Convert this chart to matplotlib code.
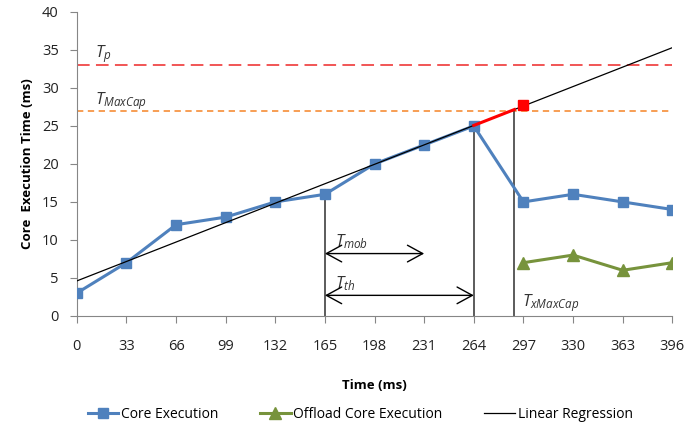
import matplotlib
matplotlib.use("Agg")
import matplotlib.pyplot as plt
import numpy as np

plt.rcParams['font.family'] = ['Open Sans', 'DejaVu Sans']
plt.rcParams['mathtext.fontset'] = 'custom'
plt.rcParams['mathtext.it'] = 'Open Sans:italic'
plt.rcParams['mathtext.rm'] = 'Open Sans'

time_ticks = [0, 33, 66, 99, 132, 165, 198, 231, 264, 297, 330, 363, 396]
core_x = [0, 33, 66, 99, 132, 165, 198, 231, 264, 297, 330, 363, 396]
core_y = [3, 7, 12, 13, 15, 16, 20, 22.5, 25, 15, 16, 15, 14]
offload_x = [297, 330, 363, 396]
offload_y = [7, 8, 6, 7]
reg_x = [0, 396]
reg_y = [4.6, 35.3]
t_p = 33
t_maxcap = 27
t_xmaxcap = 291
red_pt = (297, 27.8)
mob_span = (165, 231, 8.2)
th_span = (165, 264, 2.7)

def reg(x):
    return reg_y[0] + (reg_y[1] - reg_y[0]) * (x - reg_x[0]) / (reg_x[1] - reg_x[0])

fig = plt.figure(figsize=(6.86, 4.28), dpi=100)
ax = fig.add_axes([0.112, 0.262, 0.868, 0.71])

blue = '#4F81BD'
green = '#77933C'
gray = '#868686'

ax.axhline(t_p, color='#F04848', lw=1.3, dashes=(7, 3.5), zorder=1)
ax.axhline(t_maxcap, color='#F79646', lw=1.3, dashes=(3.5, 2.5), zorder=1)

# vertical markers
ax.plot([165, 165], [0, core_y[5]], color='#404040', lw=1.2, zorder=2)
ax.plot([264, 264], [0, core_y[8]], color='#404040', lw=1.2, zorder=2)
ax.plot([t_xmaxcap, t_xmaxcap], [0, reg(t_xmaxcap)], color='#404040', lw=1.2, zorder=2)

l1, = ax.plot(core_x, core_y, color=blue, lw=2.2, marker='s', ms=7.5, zorder=3,
              label='Core Execution')
l2, = ax.plot(offload_x, offload_y, color=green, lw=2.2, marker='^', ms=8,
              markerfacecolor=green, markeredgecolor=green, zorder=3,
              label='Offload Core Execution')
l3, = ax.plot(reg_x, reg_y, color='black', lw=0.9, zorder=4, label='Linear Regression')
ax.plot([264, t_xmaxcap], [reg(264), reg(t_xmaxcap)], color='red', lw=2.2, zorder=5)
ax.plot([red_pt[0]], [red_pt[1]], marker='s', ms=6.5, color='red', zorder=6)

# arrows
for (x0, x1, y) in [mob_span, th_span]:
    ax.annotate('', xy=(x1, y), xytext=(x0, y),
                arrowprops=dict(arrowstyle='<->, head_length=0.55, head_width=0.3',
                                color='black', lw=1.0,
                                mutation_scale=20, shrinkA=0, shrinkB=0), zorder=5)

tfs = 12
ax.text(12, 34.0, r'$T_p$', fontsize=tfs, color='#333333')
ax.text(12, 27.8, r'$T_{MaxCap}$', fontsize=tfs, color='#333333')
ax.text(172, 9.1, r'$T_{mob}$', fontsize=tfs, color='#333333')
ax.text(172, 3.6, r'$T_{th}$', fontsize=tfs, color='#333333')
ax.text(296, 1.3, r'$T_{xMaxCap}$', fontsize=tfs, color='#333333')

ax.set_xlim(0, 396)
ax.set_ylim(0, 40)
ax.set_xticks(time_ticks)
ax.set_xticklabels([str(t) for t in time_ticks])
ax.set_yticks(range(0, 41, 5))
for s in ['top', 'right']:
    ax.spines[s].set_visible(False)
for s in ['left', 'bottom']:
    ax.spines[s].set_color(gray)
ax.tick_params(axis='both', colors=gray, labelcolor='#222222', labelsize=10.5, length=5)
ax.tick_params(axis='x', pad=12)
ax.tick_params(axis='y', pad=8)

ax.set_xlabel('Time (ms)', fontsize=9.5, fontweight='bold', labelpad=18)
ax.set_ylabel('Core  Execution Time (ms)', fontsize=9.5, fontweight='bold', labelpad=6)

fig.legend(handles=[l1, l2, l3], loc='lower center', ncol=3, frameon=False,
           bbox_to_anchor=(0.525, -0.015), fontsize=10, handlelength=2.2,
           columnspacing=3.0, handletextpad=0.2)

fig.savefig('out.png', dpi=100)
